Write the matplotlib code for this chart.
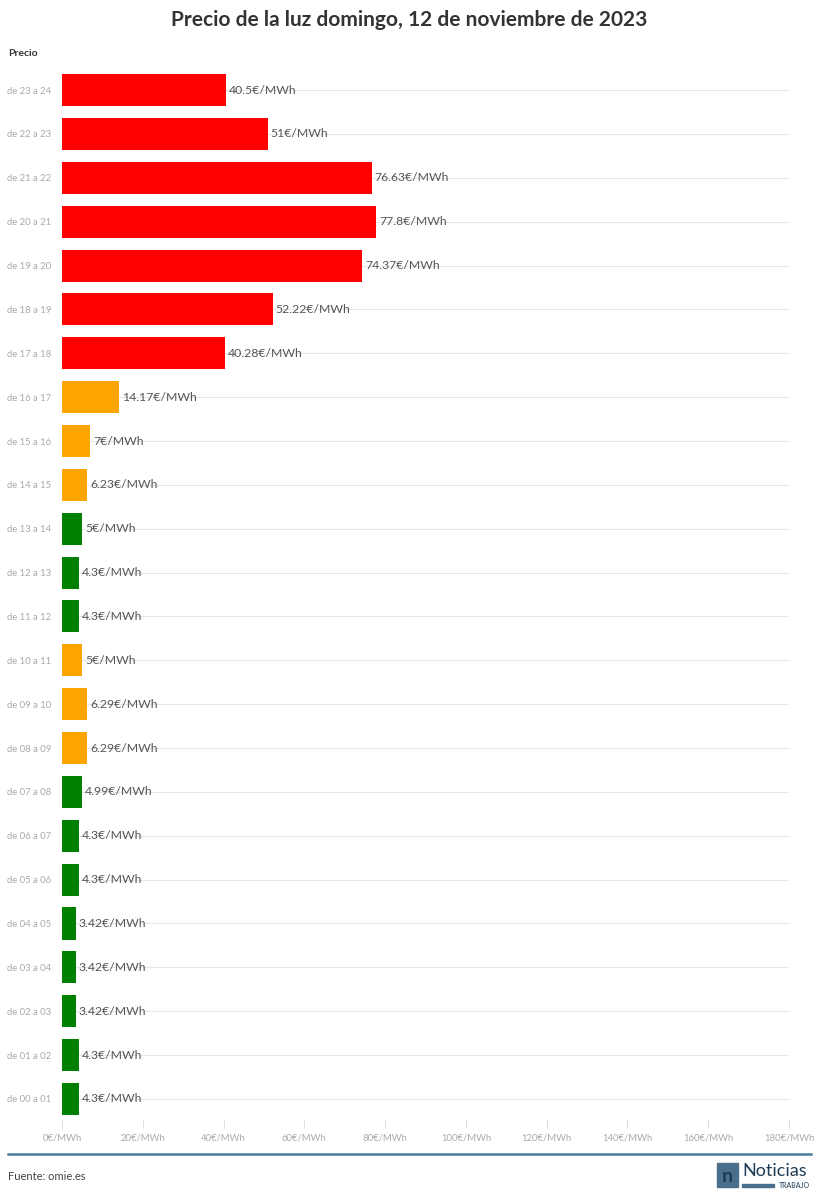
import matplotlib
matplotlib.use("Agg")
import matplotlib.pyplot as plt
from matplotlib.patches import Rectangle

plt.rcParams['font.family'] = ['Lato', 'DejaVu Sans']

hours = ["de 00 a 01","de 01 a 02","de 02 a 03","de 03 a 04","de 04 a 05","de 05 a 06",
         "de 06 a 07","de 07 a 08","de 08 a 09","de 09 a 10","de 10 a 11","de 11 a 12",
         "de 12 a 13","de 13 a 14","de 14 a 15","de 15 a 16","de 16 a 17","de 17 a 18",
         "de 18 a 19","de 19 a 20","de 20 a 21","de 21 a 22","de 22 a 23","de 23 a 24"]
prices = [4.3,4.3,3.42,3.42,3.42,4.3,4.3,4.99,6.29,6.29,5,4.3,4.3,5,6.23,7,14.17,40.28,
          52.22,74.37,77.8,76.63,51,40.5]
labels = ["4.3","4.3","3.42","3.42","3.42","4.3","4.3","4.99","6.29","6.29","5","4.3","4.3","5",
          "6.23","7","14.17","40.28","52.22","74.37","77.8","76.63","51","40.5"]
levels = ["g","g","g","g","g","g","g","g","o","o","o","g","g","g","o","o","o","r","r","r","r","r","r","r"]
colmap = {"g": "#008000", "o": "#ffa500", "r": "#ff0000"}
xticks = [0,20,40,60,80,100,120,140,160,180]

W, H = 819, 1200
fig = plt.figure(figsize=(W/100, H/100), dpi=100)
ax = fig.add_axes([62/W, 1-1120/H, (789-62)/W, (1120-66)/H])
y = list(range(len(hours)))
ax.barh(y, prices, height=0.73, color=[colmap[l] for l in levels], zorder=3)
for yi, p, l in zip(y, prices, labels):
    ax.text(p + 0.7, yi, f"{l}€/MWh", va='center', ha='left', fontsize=8.8, color='#555555', zorder=4)
ax.set_xlim(0, 180)
ax.set_ylim(-0.48, 23.55)
ax.set_yticks(y)
ax.set_yticklabels(hours, fontsize=6.8, color='#aaaaaa')
ax.set_xticks(xticks)
ax.set_xticklabels([f"{t}€/MWh" for t in xticks], fontsize=6.8, color='#aaaaaa')
ax.tick_params(axis='y', length=0, pad=8)
ax.tick_params(axis='x', length=6, color='#dddddd', pad=4)
for s in ax.spines.values():
    s.set_visible(False)
for yi in y:
    ax.axhline(yi, color='#e6e6e6', lw=0.8, zorder=1)

fig.text(0.5, 1-20/H, "Precio de la luz domingo, 12 de noviembre de 2023", ha='center', va='center',
         fontsize=15, fontweight='bold', color='#333333')
fig.text(8/W, 1-53/H, "Precio", fontsize=7.5, fontweight='bold', color='#333333', va='center')
fig.add_artist(plt.Line2D([8/W, 811/W], [1-1154/H]*2, color='#4a7a9c', lw=1.8))
fig.text(8/W, 1-1177/H, "Fuente: omie.es", fontsize=8, color='#444444', va='center')
# logo
fig.add_artist(Rectangle((717/W, 1-1187/H), 21/W, 24/H, color='#4a6f8c', transform=fig.transFigure))
fig.text(727.5/W, 1-1176/H, "n", fontsize=14, fontweight='bold', color='#1d3c55', ha='center', va='center')
fig.text(742/W, 1-1171/H, "Noticias", fontsize=13, color='#1d3c55', ha='left', va='center')
fig.add_artist(Rectangle((742/W, 1-1187/H), 32/W, 3/H, color='#4a6f8c', transform=fig.transFigure))
fig.text(810/W, 1-1185/H, "TRABAJO", fontsize=5, color='#1d3c55', ha='right', va='center')
fig.savefig("out.png", dpi=100)
